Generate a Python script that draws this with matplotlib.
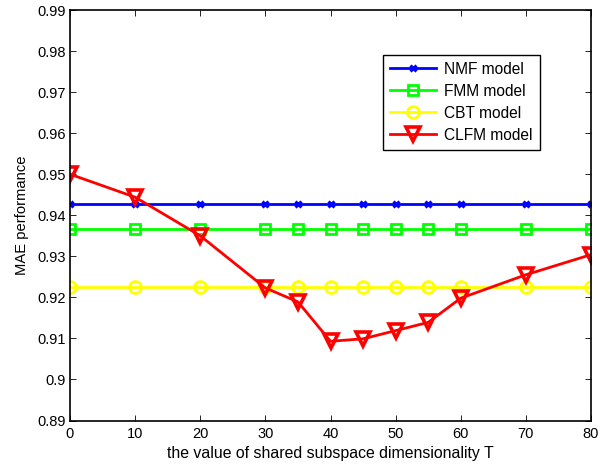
import numpy as np
import matplotlib
matplotlib.use("Agg")
import matplotlib.pyplot as plt

plt.rcParams['font.family'] = ['Liberation Sans', 'DejaVu Sans']

T = [0, 10, 20, 30, 35, 40, 45, 50, 55, 60, 70, 80]
nmf = [0.9427] * len(T)
fmm = [0.9367] * len(T)
cbt = [0.9226] * len(T)
clfm = [0.9500, 0.9444, 0.9350, 0.9223, 0.9189, 0.9093, 0.9099, 0.9119, 0.9139, 0.9198, 0.9255, 0.9304]

yticks = np.round(np.arange(0.89, 0.9901, 0.01), 2)
ylabels = ['0.89', '0.9', '0.91', '0.92', '0.93', '0.94', '0.95', '0.96', '0.97', '0.98', '0.99']
xticks = [0, 10, 20, 30, 40, 50, 60, 70, 80]

fig = plt.figure(figsize=(5.98, 4.66), dpi=100)
ax = fig.add_axes([70 / 598, 1 - 420.5 / 466, 521 / 598, 410.5 / 466])

ax.plot(T, nmf, color='#0000ff', lw=2, marker='x', ms=5, mew=2.2, label='NMF model')
ax.plot(T, fmm, color='#00ff00', lw=2, marker='s', ms=7, mew=2, mfc='none', label='FMM model')
ax.plot(T, cbt, color='#ffff00', lw=2, marker='o', ms=8.5, mew=2, mfc='none', label='CBT model')
ax.plot(T, clfm, color='#ff0000', lw=2, marker='v', ms=10, mew=2.6, mfc='none', label='CLFM model')

ax.set_xlim(0, 80)
ax.set_ylim(0.89, 0.99)
ax.set_xticks(xticks)
ax.set_yticks(yticks)
ax.set_yticklabels(ylabels)
ax.tick_params(direction='in', top=True, right=True, labelsize=10.5, length=4, width=0.6, pad=3)
ax.tick_params(axis='x', pad=5)
for s in ax.spines.values():
    s.set_linewidth(1.2)

ax.set_xlabel('the value of shared subspace dimensionality T', fontsize=11.4, labelpad=3)
ax.set_ylabel('MAE performance', fontsize=10.6, labelpad=6)

leg = ax.legend(loc='upper left', bbox_to_anchor=(312.7 / 521, 1 - 44.7 / 410.5),
                borderaxespad=0, fontsize=11.2, frameon=True, fancybox=False, framealpha=1,
                handlelength=3.0, borderpad=0.45, labelspacing=0.45, handletextpad=0.5)
leg.get_frame().set_edgecolor('black')
leg.get_frame().set_linewidth(1.0)

fig.savefig('out.png', dpi=100)
